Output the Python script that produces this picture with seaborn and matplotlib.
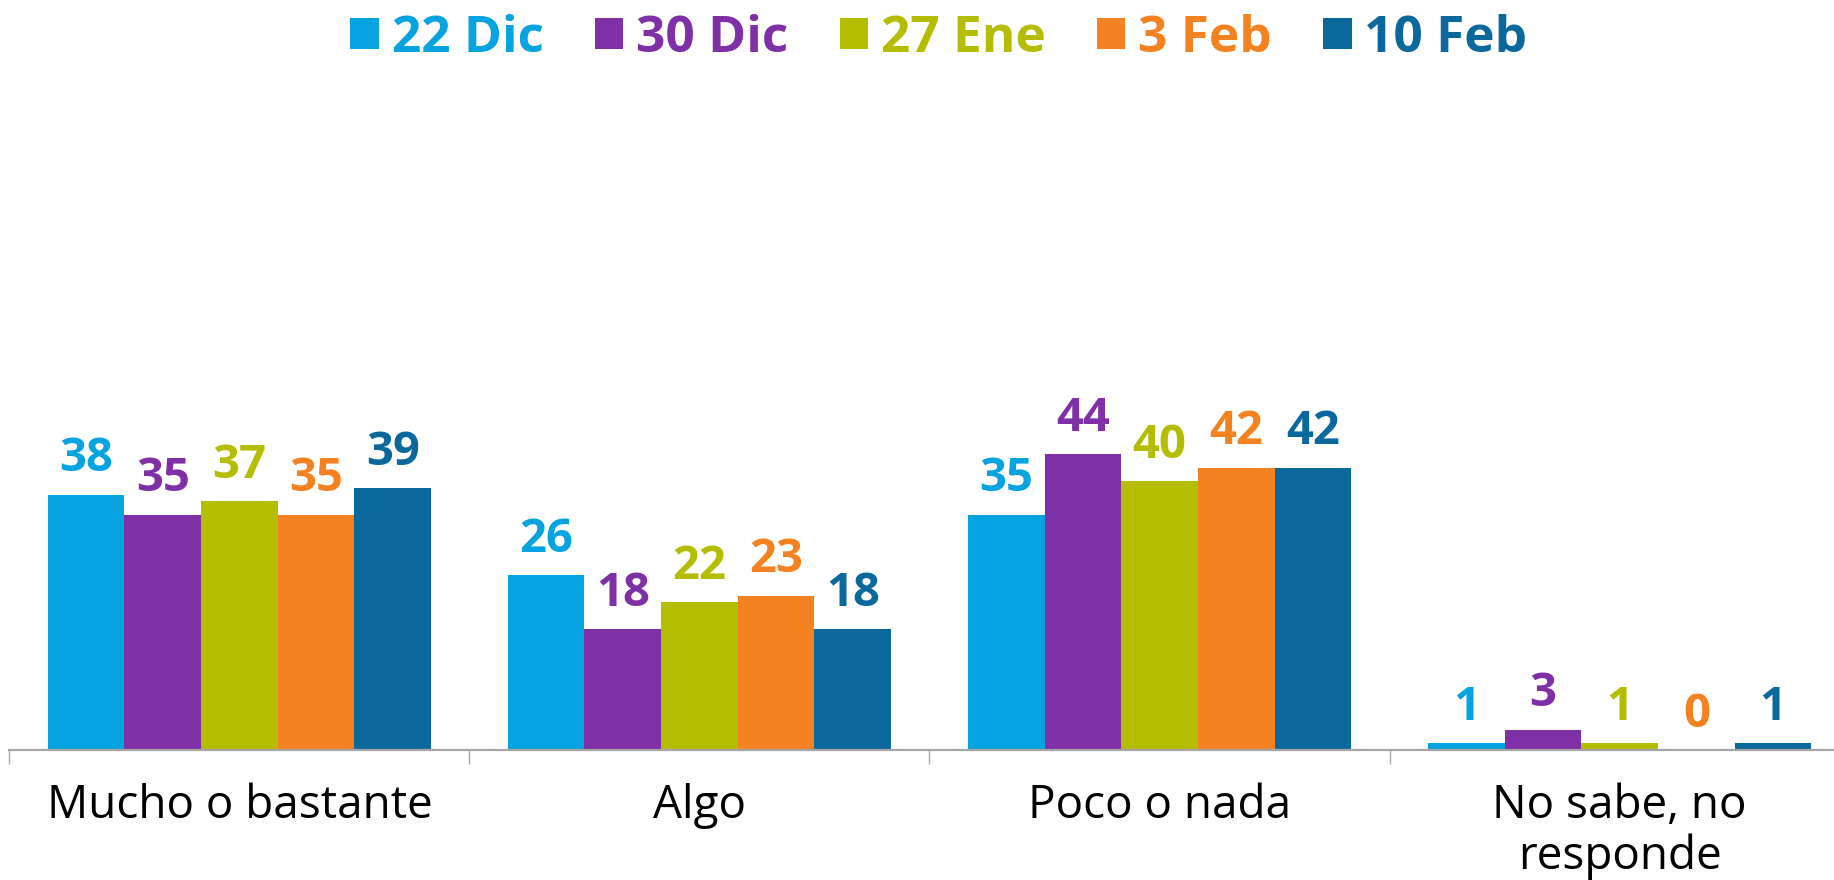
import numpy as np
import pandas as pd
import seaborn as sns
import matplotlib.pyplot as plt
from matplotlib.patches import Patch

categorias = ['Mucho o bastante', 'Algo', 'Poco o nada', 'No sabe, no\nresponde']
series = ['22 Dic', '30 Dic', '27 Ene', '3 Feb', '10 Feb']
colores = ['#05A3DF', '#7F30A6', '#B5BD00', '#F58220', '#0B689C']

v_22dic = [38, 26, 35, 1]
v_30dic = [35, 18, 44, 3]
v_27ene = [37, 22, 40, 1]
v_3feb = [35, 23, 42, 0]
v_10feb = [39, 18, 42, 1]
valores = [v_22dic, v_30dic, v_27ene, v_3feb, v_10feb]

rows = []
for s, vals in zip(series, valores):
    for c, v in zip(categorias, vals):
        rows.append({'cat': c, 'serie': s, 'val': v})
df = pd.DataFrame(rows)

sns.set_style('white')
plt.rcParams['font.family'] = ['Open Sans', 'DejaVu Sans']

fig = plt.figure(figsize=(18.34, 8.8), dpi=100)
ax = fig.add_axes([0.0051, 0.1477, 0.9949, 0.7633])

sns.barplot(data=df, x='cat', y='val', hue='serie', palette=colores,
            width=0.833, gap=0, saturation=1, legend=False, ax=ax,
            linewidth=0, errorbar=None)

for cont, col in zip(ax.containers, colores):
    ax.bar_label(cont, padding=9, color=col, fontsize=34, fontweight='bold')

ax.set_ylim(0, 100)
ax.set_xlim(-0.5, 3.466)
ax.set_xlabel('')
ax.set_ylabel('')
ax.set_yticks([])
sns.despine(ax=ax, left=True)
ax.spines['bottom'].set_color('#A6A6A6')
ax.spines['bottom'].set_linewidth(1.6)

ax.set_xticks(range(4))
ax.set_xticklabels(categorias, fontsize=33, color='black', linespacing=1.12)
ax.set_xticks([-0.5, 0.5, 1.5, 2.5], minor=True)
ax.tick_params(axis='x', which='major', bottom=True, length=0, pad=24)
ax.tick_params(axis='x', which='minor', bottom=True, length=10, width=1,
               color='#A6A6A6', direction='out')

handles = [Patch(facecolor=c, edgecolor='none') for c in colores]
leg = fig.legend(handles, series, loc='upper center', bbox_to_anchor=(0.512, 1.025),
                 ncol=5, frameon=False, fontsize=37,
                 handlelength=0.55, handleheight=0.55, handletextpad=0.25,
                 columnspacing=1.0, borderaxespad=0.3)
for t, c in zip(leg.get_texts(), colores):
    t.set_color(c)
    t.set_fontweight('bold')

fig.savefig('out.png', dpi=100)
